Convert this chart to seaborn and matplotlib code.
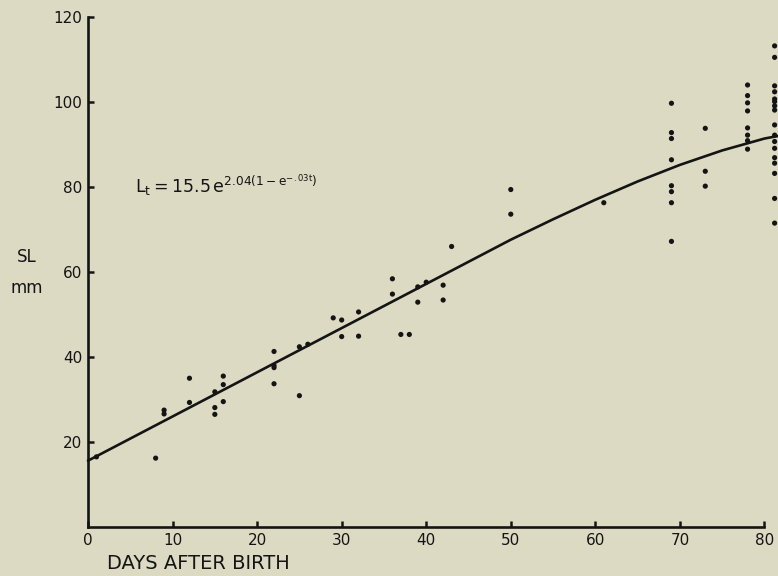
import matplotlib
matplotlib.use("Agg")
import matplotlib.pyplot as plt
import seaborn as sns
import pandas as pd

# ---- data ----
days = [1, 8, 9, 9, 12, 12, 15, 15, 15, 16, 16, 16,
        22, 22, 22, 22, 25, 25, 26, 29, 30, 30, 32, 32,
        36, 36, 37, 38, 39, 39, 40, 42, 42, 43, 50, 50, 61,
        69, 69, 69, 69, 69, 69, 69, 69,
        73, 73, 73,
        78, 78, 78, 78, 78, 78, 78, 78,
        81.2, 81.2, 81.2, 81.2, 81.2, 81.2, 81.2, 81.2, 81.2,
        81.2, 81.2, 81.2, 81.2, 81.2, 81.2, 81.2, 81.2]
sl_mm = [16.5, 16.2, 27.5, 26.6, 35.0, 29.3, 31.8, 28.1, 26.5, 35.5, 33.5, 29.5,
         41.3, 38.0, 37.5, 33.7, 42.4, 30.9, 43.0, 49.2, 48.7, 44.8, 50.6, 44.9,
         58.4, 54.8, 45.3, 45.3, 52.9, 56.5, 57.6, 56.9, 53.4, 66.0, 79.4, 73.6, 76.3,
         99.7, 92.8, 91.4, 86.4, 80.3, 78.9, 76.3, 67.2,
         93.8, 83.7, 80.2,
         104.0, 101.5, 99.8, 97.9, 93.9, 92.2, 90.9, 88.9,
         113.2, 110.5, 103.8, 102.4, 100.7, 100.1, 99.1, 98.1, 94.6,
         92.2, 90.7, 89.1, 86.9, 85.6, 83.2, 77.3, 71.5]

curve_t = [0, 10, 20, 30, 40, 45, 50, 55, 60, 65, 70, 75, 80, 81.6]
curve_L = [15.6, 26.0, 36.4, 46.8, 57.2, 62.4, 67.6, 72.4, 77.0, 81.3, 85.2, 88.6, 91.4, 92.0]

x_ticks = [0, 10, 20, 30, 40, 50, 60, 70, 80]
y_ticks = [20, 40, 60, 80, 100, 120]

bg = "#dddac4"
ink = "#141414"

sns.set_theme(style="ticks")
plt.rcParams["font.family"] = ["DejaVu Sans"]
plt.rcParams["mathtext.fontset"] = "dejavusans"

fig = plt.figure(figsize=(7.78, 5.76), dpi=100, facecolor=bg)
ax = fig.add_axes([0.1131, 0.0851, 0.8869, 0.8854])
ax.set_facecolor(bg)

pts = pd.DataFrame({"days": days, "sl": sl_mm})
line = pd.DataFrame({"t": curve_t, "L": curve_L})

sns.lineplot(data=line, x="t", y="L", ax=ax, color=ink, linewidth=1.9, clip_on=False)
sns.scatterplot(data=pts, x="days", y="sl", ax=ax, color=ink, s=14,
                edgecolor="none", clip_on=False, zorder=3)

ax.set_xlim(0, 81.6)
ax.set_ylim(0, 120)
ax.set_xticks(x_ticks)
ax.set_yticks(y_ticks)
ax.set_xlabel("")
ax.set_ylabel("")

for s in ["top", "right"]:
    ax.spines[s].set_visible(False)
for s in ["left", "bottom"]:
    ax.spines[s].set_linewidth(1.9)
    ax.spines[s].set_color(ink)
ax.spines["bottom"].set_bounds(0, 80)

ax.tick_params(axis="both", direction="in", length=4, width=1.8, color=ink,
               labelsize=11, labelcolor=ink, pad=4)

fig.text(0.1375, 0.006, "DAYS AFTER BIRTH", fontsize=14, color=ink,
         ha="left", va="bottom")
fig.text(0.034, 0.553, "SL", fontsize=12, color=ink, ha="center", va="center")
fig.text(0.034, 0.500, "mm", fontsize=12, color=ink, ha="center", va="center")

ax.text(5.6, 78.6, r"$\mathregular{L_t = 15.5\,e^{2.04(1-e^{-.03t})}}$",
        fontsize=12.5, color=ink, ha="left", va="baseline")

fig.savefig("out.png", dpi=100, facecolor=bg)
